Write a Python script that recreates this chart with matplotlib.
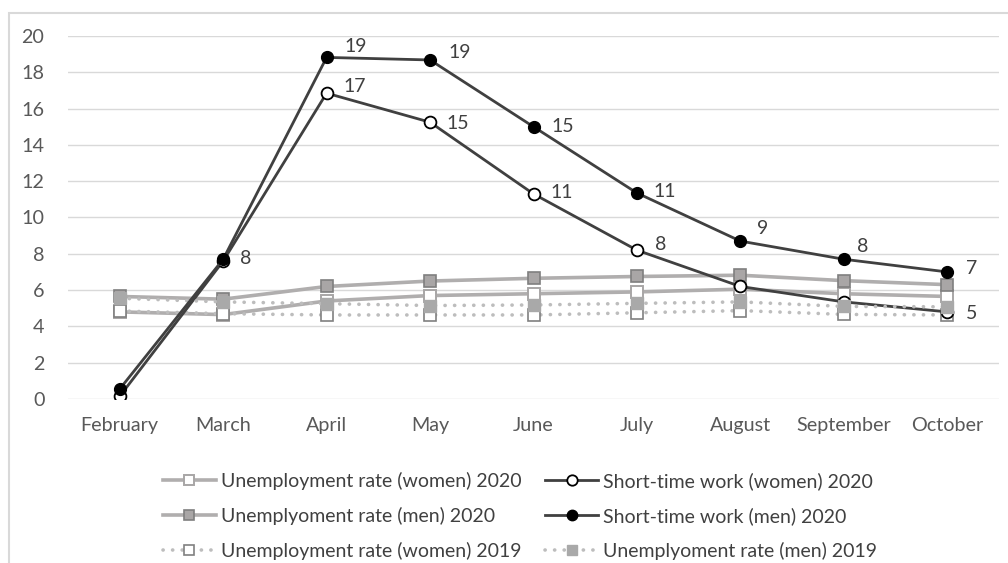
import matplotlib
matplotlib.use("Agg")
import matplotlib.pyplot as plt
from matplotlib.patches import Rectangle

months = ["February", "March", "April", "May", "June", "July", "August", "September", "October"]
yticks = [0, 2, 4, 6, 8, 10, 12, 14, 16, 18, 20]

unemp_women_2020 = [4.8, 4.65, 5.4, 5.7, 5.8, 5.9, 6.05, 5.8, 5.65]
short_women_2020 = [0.15, 7.6, 16.85, 15.25, 11.3, 8.2, 6.2, 5.35, 4.8]
unemp_men_2020 = [5.65, 5.5, 6.2, 6.5, 6.65, 6.75, 6.82, 6.52, 6.3]
short_men_2020 = [0.55, 7.7, 18.82, 18.68, 15.0, 11.35, 8.7, 7.7, 7.0]
unemp_women_2019 = [4.85, 4.7, 4.63, 4.63, 4.63, 4.75, 4.87, 4.66, 4.63]
unemp_men_2019 = [5.55, 5.35, 5.25, 5.15, 5.18, 5.27, 5.35, 5.1, 5.08]

labels_women = ["Unemployment rate (women) 2020", "Short-time work (women) 2020"]
labels_men = ["Unemplyoment rate (men) 2020", "Short-time work (men) 2020"]
labels_2019 = ["Unemployment rate (women) 2019", "Unemplyoment rate (men) 2019"]

# which points of the short-time series carry a data label, with pixel offsets
short_women_label_idx = [2, 3, 4, 5, 8]
short_women_offsets = [(28, 7), (28, -1), (28, 1), (24, 6), (24, -2)]
short_men_label_idx = [1, 2, 3, 4, 5, 6, 7, 8]
short_men_offsets = [(23, 1), (29, 11), (30, 7), (29, 0), (28, 1), (22, 13), (19, 13), (24, 3)]

W, H = 1008, 563
fig = plt.figure(figsize=(W / 100, H / 100), dpi=100)
plt.rcParams['font.family'] = ['Lato', 'DejaVu Sans']

# chart border
fig.patches.append(Rectangle((8.5 / W, -0.1), 1.2, 1 - 13.5 / H + 0.1, transform=fig.transFigure,
                             fill=False, edgecolor="#d9d9d9", linewidth=1.5, zorder=0))

ax = fig.add_axes([68 / W, 1 - 399 / H, (999 - 68) / W, (399 - 36) / H])
x = list(range(len(months)))

light = "#b0aeae"
dark = "#404040"

l1, = ax.plot(x, unemp_women_2020, color=light, lw=2.6, marker="s", ms=8.5,
              mfc="white", mec="#a8a6a6", mew=1.4, zorder=3)
l3, = ax.plot(x, unemp_men_2020, color=light, lw=2.6, marker="s", ms=8.5,
              mfc="#a9a6a6", mec="#7f7f7f", mew=1.2, zorder=3)
l5, = ax.plot(x, unemp_women_2019, color="#bdbdbd", lw=2.6, ls=(0, (0.05, 2.6)),
              dash_capstyle="round", marker="s", ms=8.5, mfc="white", mec="#808080",
              mew=1.2, zorder=3)
l6, = ax.plot(x, unemp_men_2019, color="#bdbdbd", lw=2.6, ls=(0, (0.05, 2.6)),
              dash_capstyle="round", marker="s", ms=8.5, mfc="#a9a9a9", mec="#a9a9a9",
              mew=1.0, zorder=3.5)
l2, = ax.plot(x, short_women_2020, color=dark, lw=2.0, marker="o", ms=8.5,
              mfc="white", mec="black", mew=1.3, zorder=3.2)
l4, = ax.plot(x, short_men_2020, color=dark, lw=2.0, marker="o", ms=8.5,
              mfc="black", mec="black", mew=1.0, zorder=4)

for i, off in zip(short_women_label_idx, short_women_offsets):
    ax.annotate(f"{round(short_women_2020[i])}", (x[i], short_women_2020[i]),
                xytext=off, textcoords="offset pixels", ha="center", va="center",
                fontsize=14, color="#404040")
for i, off in zip(short_men_label_idx, short_men_offsets):
    ax.annotate(f"{round(short_men_2020[i])}", (x[i], short_men_2020[i]),
                xytext=off, textcoords="offset pixels", ha="center", va="center",
                fontsize=14, color="#404040")

ax.set_xlim(-0.5, len(months) - 0.5)
ax.set_ylim(0, 20)
ax.set_yticks(yticks)
ax.set_yticklabels([str(v) for v in yticks])
ax.set_xticks(x)
ax.set_xticklabels(months)
ax.grid(axis="y", color="#d9d9d9", lw=1.0)
ax.set_axisbelow(True)
for s in ax.spines.values():
    s.set_visible(False)
ax.tick_params(axis="both", length=0, labelsize=14.2, labelcolor="#595959")
ax.tick_params(axis="y", pad=17)
ax.tick_params(axis="x", pad=13)

handles = [l1, l3, l5, l2, l4, l6]
labs = [labels_women[0], labels_men[0], labels_2019[0], labels_women[1], labels_men[1], labels_2019[1]]
leg = fig.legend(handles, labs, ncol=2, loc="center", bbox_to_anchor=(520 / W, 1 - 516 / H),
                 frameon=False, fontsize=14, handlelength=2.75, handletextpad=0.25,
                 columnspacing=1.2, labelspacing=0.88, labelcolor="#404040",
                 borderpad=0, borderaxespad=0)
for h in leg.legend_handles:
    h.set_markersize(7.5)

fig.savefig("out.png", dpi=100, facecolor="white")
